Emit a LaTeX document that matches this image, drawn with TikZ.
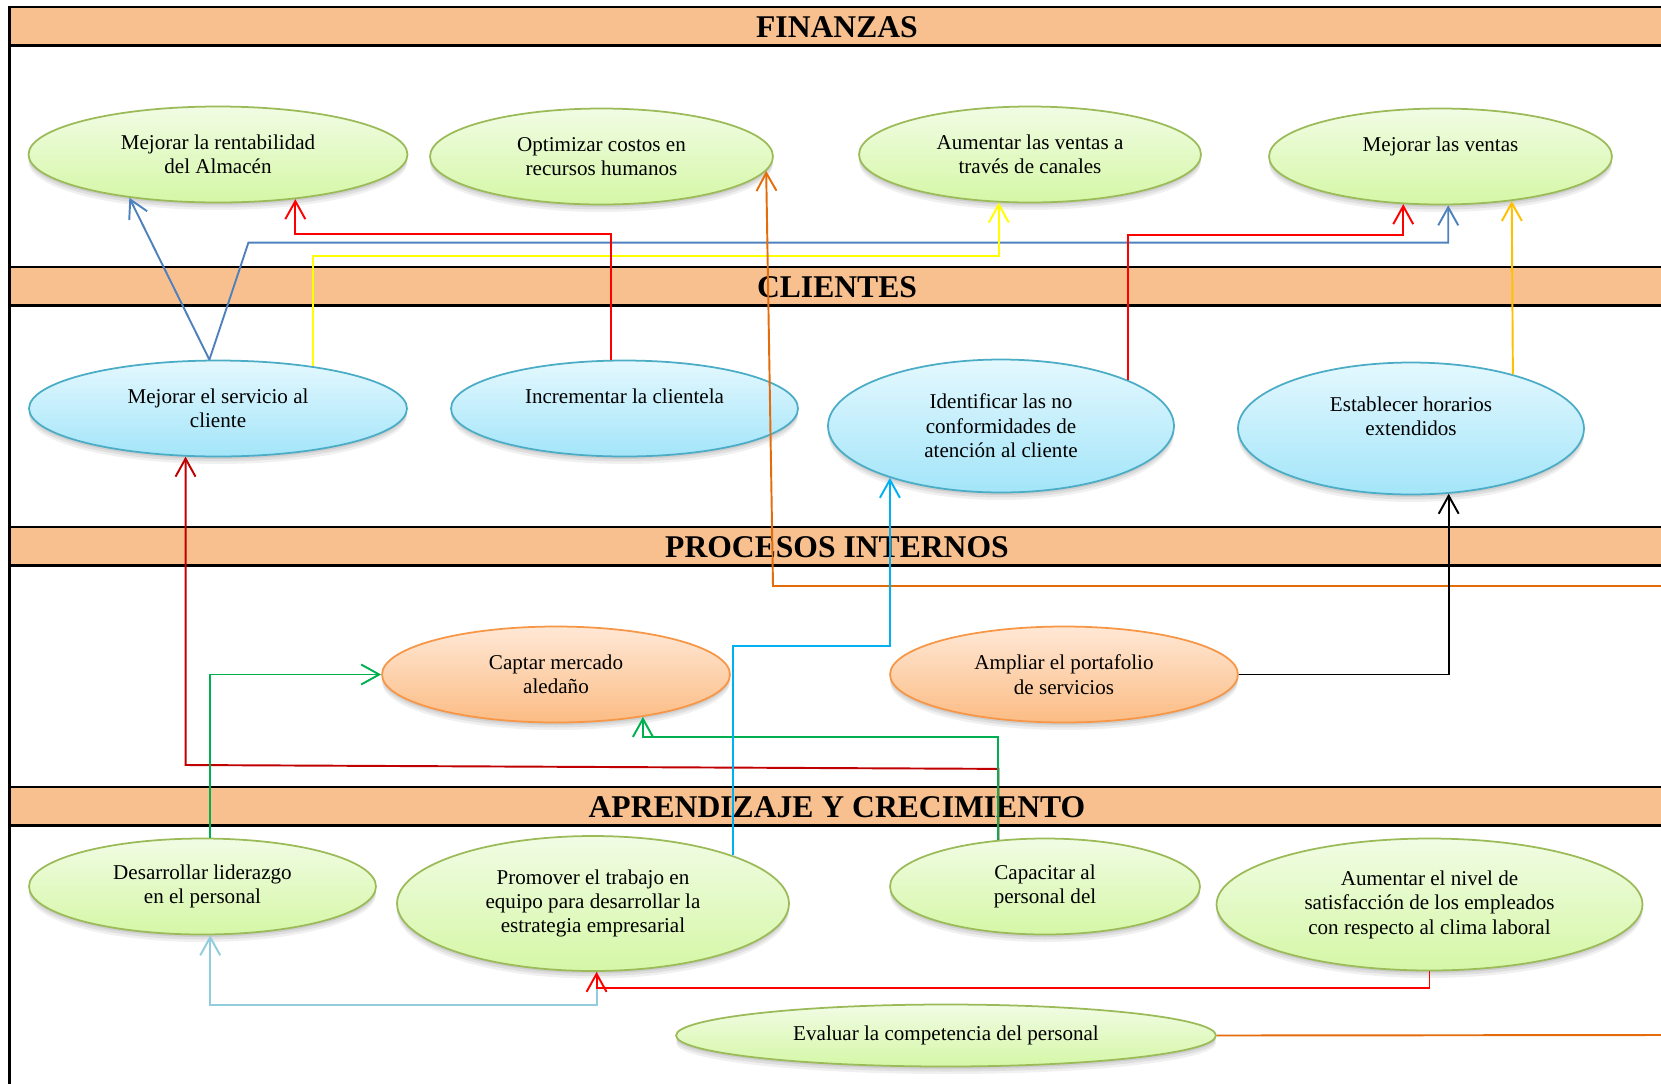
\documentclass[tikz,border=0pt]{standalone}
\usepackage{fontspec}
\setmainfont{Liberation Serif}
\usepackage{tikz}
\usetikzlibrary{shapes.geometric, arrows.meta}
\definecolor{bandpeach}{RGB}{249,192,143}
\definecolor{grnline}{RGB}{155,187,89}
\definecolor{grntop}{RGB}{241,252,228}
\definecolor{grnbot}{RGB}{213,247,166}
\definecolor{bluline}{RGB}{75,172,198}
\definecolor{blutop}{RGB}{228,248,254}
\definecolor{blubot}{RGB}{163,229,249}
\definecolor{oraline}{RGB}{247,150,70}
\definecolor{oratop}{RGB}{255,232,214}
\definecolor{orabot}{RGB}{251,188,132}
\definecolor{linkblue}{RGB}{79,129,189}
\definecolor{linkyellow}{RGB}{255,255,0}
\definecolor{linkred}{RGB}{255,0,0}
\definecolor{linkamber}{RGB}{255,192,0}
\definecolor{linkorange}{RGB}{228,108,10}
\definecolor{linkdarkred}{RGB}{192,0,0}
\definecolor{linkgreen}{RGB}{0,176,80}
\definecolor{linkcyan}{RGB}{0,176,240}
\definecolor{linksky}{RGB}{146,205,221}

\tikzset{
  sombra/.style={
    preaction={fill=black, opacity=0.06, transform canvas={yshift=-1.5mm}},
    preaction={fill=black, opacity=0.07, transform canvas={yshift=-1.0mm}},
    preaction={fill=black, opacity=0.08, transform canvas={yshift=-0.5mm}}},
  objetivo/.style={ellipse, inner sep=0pt, line width=1pt, align=center,
    font=\fontsize{12}{13.9}\selectfont, sombra},
  verde/.style={objetivo, draw=grnline, top color=grntop, bottom color=grnbot},
  celeste/.style={objetivo, draw=bluline, top color=blutop, bottom color=blubot},
  naranja/.style={objetivo, draw=oraline, top color=oratop, bottom color=orabot},
  enlace/.style={line width=1.1pt, -{Straight Barb[length=3.6mm,width=4mm]}},
  bandtitle/.style={font=\fontsize{18}{20}\selectfont\bfseries, inner sep=0pt}
}

\begin{document}
\begin{tikzpicture}[x=0.02cm, y=-0.02cm]
    \useasboundingbox (0,0) rectangle (1661,1083);
    \clip (0,0) rectangle (1661,1083);

    % Draw perspective bands
    \foreach \y/\name in {7/FINANZAS, 267/CLIENTES, 527/PROCESOS INTERNOS, 787/APRENDIZAJE Y CRECIMIENTO}
    {
        \draw[fill=bandpeach, line width=1.6pt] (9.5,\y) rectangle (1700,{\y+38.5});
        \node[bandtitle] (band\y) at (837,{\y+20}) {\name};
    }
    \draw[line width=1.6pt] (9.5,7) -- (9.5,1090);

    % Finanzas
    \node[verde, minimum width=7.58cm, minimum height=1.92cm] (rent) at (218,154.5) {Mejorar la rentabilidad\\del Almacén};
    \node[verde, minimum width=6.86cm, minimum height=1.92cm] (opti) at (601.5,156.5) {Optimizar costos en\\recursos humanos};
    \node[verde, minimum width=6.84cm, minimum height=1.92cm] (can) at (1030,154.5) {Aumentar las ventas a\\través de canales};
    \node[verde, minimum width=6.86cm, minimum height=1.92cm] (vent) at (1440.5,156.5) {Mejorar las ventas\\ \mbox{}};

    % Clientes
    \node[celeste, minimum width=7.56cm, minimum height=1.92cm] (serv) at (218,408.5) {Mejorar el servicio al\\cliente};
    \node[celeste, minimum width=6.94cm, minimum height=1.92cm] (incr) at (624.5,408.5) {Incrementar la clientela\\ \mbox{}};
    \node[celeste, minimum width=6.92cm, minimum height=2.66cm] (iden) at (1001,426) {Identificar las no\\conformidades de\\atención al cliente};
    \node[celeste, minimum width=6.92cm, minimum height=2.64cm] (estab) at (1411,428.5) {Establecer horarios\\extendidos\\ \mbox{}};

    % Procesos internos
    \node[naranja, minimum width=6.96cm, minimum height=1.92cm] (capt) at (556,674.5) {Captar mercado\\aledaño};
    \node[naranja, minimum width=6.96cm, minimum height=1.92cm] (ampl) at (1064,674.5) {Ampliar el portafolio\\de servicios};

    % Aprendizaje y crecimiento
    \node[verde, minimum width=6.94cm, minimum height=1.92cm] (des) at (202.5,886.5) {Desarrollar liderazgo\\en el personal};
    \node[verde, minimum width=7.84cm, minimum height=2.70cm] (prom) at (593,903.5) {Promover el trabajo en\\equipo para desarrollar la\\estrategia empresarial};
    \node[verde, minimum width=6.20cm, minimum height=1.92cm] (cap) at (1045,886.5) {Capacitar al\\personal del};
    \node[verde, minimum width=8.52cm, minimum height=2.64cm] (aum) at (1429.5,904.5) {Aumentar el nivel de\\satisfacción de los empleados\\con respecto al clima laboral};
    \node[verde, minimum width=10.8cm, minimum height=1.24cm] (eval) at (946,1035.5) {Evaluar la competencia del personal};

    % Links towards Finanzas
    \draw[enlace, linkblue] (serv.100) -- (rent.206.5);
    \draw[enlace, linkblue] (serv.100) -- ++(39,-117) -| (vent.-81);
    \draw[enlace, linkyellow] (serv.24.5) -- ++(0,-110) -| (can.-123.3);
    \draw[enlace, linkred] (incr.105.8) -- ++(0,-126) -| (rent.-30.5);
    \draw[enlace, linkred] (iden.20.5) -- ++(0,-145) -| (vent.-128.7);
    \draw[enlace, linkamber] (estab.28.65) -- (vent.-32.3);

    % Evaluar leaves the sheet and comes back to Optimizar
    \coordinate (evalfin) at (1661,1035);
    \coordinate (optiini) at (1661,586);
    \draw[line width=1.1pt, linkorange] (eval.east) -- (evalfin);
    \draw[enlace, linkorange] (optiini) -- (773,586) -- (opti.-5.7);

    % Links towards Clientes and Procesos
    \draw[enlace, linkdarkred] (cap.135.1) -- ++(0,-71) -- (serv.-124.1 |- 0,765) -- (serv.-124.1);
    \draw[enlace, linkgreen] (cap.135.1) -- ++(0,-103) -| (capt.-26.4);
    \draw[enlace, linkgreen] (des.81.1) |- (capt.west);
    \draw[enlace, linkcyan] (prom.19.3) -- ++(0,-209) -| (iden.-155.3);
    \draw[enlace, black] (ampl.east) -| (estab.-60.2);

    % Links inside Aprendizaje
    \draw[enlace, linksky] (prom.-87) -- ++(0,33) -| (des.-81.1);
    \draw[enlace, linkred] (aum.south) -- ++(0,17) -| (prom.-87);
\end{tikzpicture}
\end{document}
